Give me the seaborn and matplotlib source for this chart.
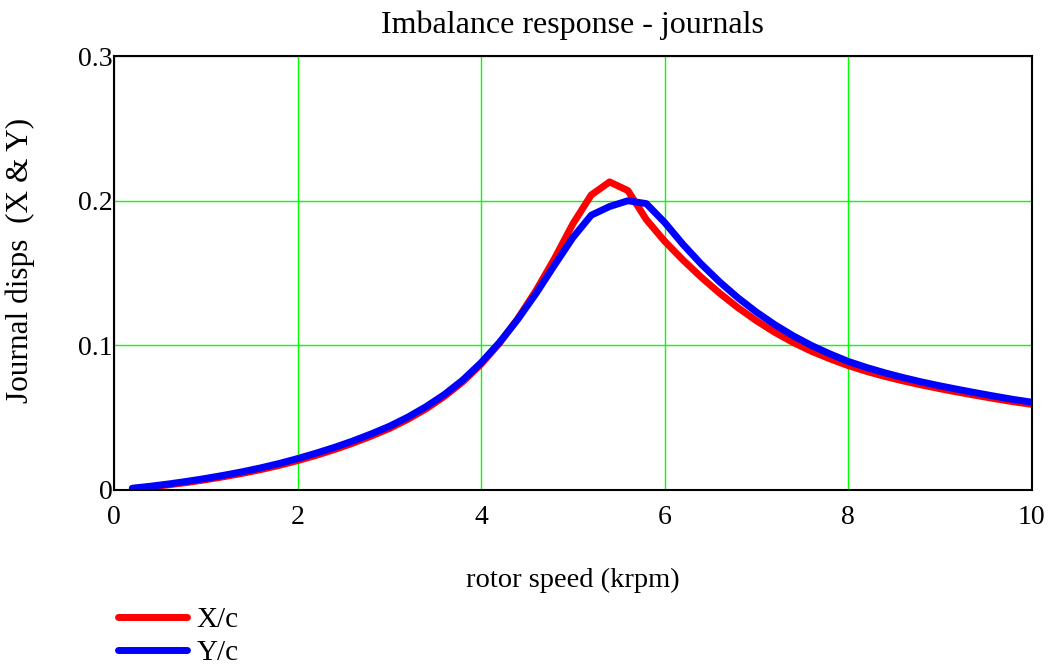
import numpy as np
import pandas as pd
import matplotlib
matplotlib.use("Agg")
import matplotlib.pyplot as plt
import seaborn as sns

speed = [0.2, 0.4, 0.6, 0.8, 1.0, 1.2, 1.4, 1.6, 1.8, 2.0,
         2.2, 2.4, 2.6, 2.8, 3.0, 3.2, 3.4, 3.6, 3.8, 4.0,
         4.2, 4.4, 4.6, 4.8, 5.0, 5.2, 5.4, 5.6, 5.8, 6.0,
         6.2, 6.4, 6.6, 6.8, 7.0, 7.2, 7.4, 7.6, 7.8, 8.0,
         8.2, 8.4, 8.6, 8.8, 9.0, 9.2, 9.4, 9.6, 9.8, 10.0]

x_over_c = [0.0009, 0.0021, 0.0036, 0.0052, 0.0071, 0.0092, 0.0115, 0.0141, 0.0170, 0.0203,
            0.0239, 0.0279, 0.0323, 0.0372, 0.0425, 0.0488, 0.0561, 0.0647, 0.0748, 0.0870,
            0.1015, 0.1185, 0.1380, 0.1600, 0.1840, 0.2040, 0.2130, 0.2070, 0.1870, 0.1720,
            0.1590, 0.1470, 0.1360, 0.1260, 0.1170, 0.1090, 0.1020, 0.0959, 0.0907, 0.0860,
            0.0820, 0.0785, 0.0754, 0.0726, 0.0700, 0.0676, 0.0653, 0.0631, 0.0610, 0.0592]

y_over_c = [0.0012, 0.0026, 0.0042, 0.0060, 0.0080, 0.0102, 0.0126, 0.0153, 0.0183, 0.0217,
            0.0254, 0.0294, 0.0338, 0.0387, 0.0440, 0.0503, 0.0576, 0.0660, 0.0760, 0.0880,
            0.1020, 0.1180, 0.1360, 0.1555, 0.1745, 0.1900, 0.1960, 0.2000, 0.1980, 0.1850,
            0.1698, 0.1561, 0.1438, 0.1328, 0.1230, 0.1143, 0.1066, 0.0999, 0.0941, 0.0889,
            0.0847, 0.0810, 0.0777, 0.0747, 0.0720, 0.0695, 0.0671, 0.0648, 0.0626, 0.0607]

series_names = ["X/c", "Y/c"]
x_ticks = [0, 2, 4, 6, 8, 10]
y_ticks = [0, 0.1, 0.2, 0.3]
y_tick_labels = ["0", "0.1", "0.2", "0.3"]

df = pd.DataFrame({
    "speed": speed * 2,
    "disp": x_over_c + y_over_c,
    "series": [series_names[0]] * len(speed) + [series_names[1]] * len(speed),
})

sns.set_theme(style="white")
plt.rcParams["font.family"] = ["Liberation Serif", "DejaVu Serif"]

fig = plt.figure(figsize=(10.55, 6.68), dpi=100)
ax = fig.add_axes([0.108, 0.2665, 0.870, 0.6495])

sns.lineplot(data=df, x="speed", y="disp", hue="series",
             palette={"X/c": "#ff0000", "Y/c": "#0000ff"},
             linewidth=5.0, ax=ax, legend=False, sort=False)

ax.set_xlim(0, 10)
ax.set_ylim(0, 0.3)
ax.set_xticks(x_ticks)
ax.set_xticklabels([str(t) for t in x_ticks])
ax.set_yticks(y_ticks)
ax.set_yticklabels(y_tick_labels)
ax.grid(True, color="#00ff00", linewidth=1.0)
ax.set_axisbelow(True)
ax.tick_params(axis="both", length=0, labelsize=20, colors="black")
ax.tick_params(axis="x", pad=11)
ax.tick_params(axis="y", pad=1)
for s in ax.spines.values():
    s.set_color("black")
    s.set_linewidth(1.5)
    s.set_visible(True)

ax.set_title("Imbalance response - journals", fontsize=23, pad=17, color="black")
ax.set_xlabel("rotor speed (krpm)", fontsize=20.5, labelpad=27, color="black")
ax.set_ylabel("Journal disps  (X & Y)", fontsize=22.5, color="black")
ax.yaxis.set_label_coords(-0.086, 0.53)

handles = [plt.Line2D([], [], color="#ff0000", linewidth=5, solid_capstyle="round"),
           plt.Line2D([], [], color="#0000ff", linewidth=5, solid_capstyle="round")]
fig.legend(handles, series_names, loc="upper left",
           bbox_to_anchor=(118 / 1055, 1 - 607 / 668),
           frameon=False, fontsize=21, handlelength=2.35, handletextpad=0.35,
           labelspacing=0.22, borderpad=0, borderaxespad=0, labelcolor="black")

fig.savefig("out.png", dpi=100)
